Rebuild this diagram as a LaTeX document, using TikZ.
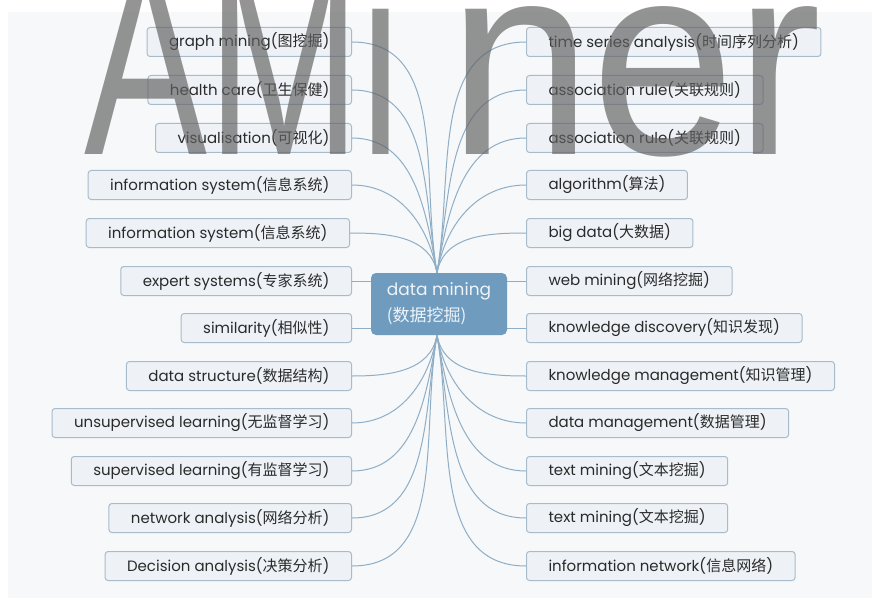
\documentclass[tikz,border=0pt]{standalone}
\usepackage{fontspec}
\setmainfont{Poppins}
\newfontfamily\cjk{Noto Sans CJK SC}
\newfontfamily\markfont{Liberation Sans}
\definecolor{canvas}{HTML}{F7F8F9}
\definecolor{boxfill}{HTML}{EEF2F6}
\definecolor{boxline}{HTML}{A7BBCB}
\definecolor{hubfill}{HTML}{6F9BBE}
\definecolor{hubtext}{HTML}{EEF4F9}
\definecolor{linkcol}{HTML}{8FAEC6}
\definecolor{darktext}{HTML}{2A2A2A}
\definecolor{markgray}{HTML}{626262}
\newcommand{\zh}[1]{{\cjk #1}}

\begin{document}
\begin{tikzpicture}[
      x=1pt,y=1pt,
      topic/.style={draw=boxline,fill=boxfill,rounded corners=3pt,line width=1pt,
        minimum height=29pt,inner xsep=22pt,inner ysep=0pt,text=darktext,
        font=\fontsize{15}{17}\selectfont},
      hub/.style={fill=hubfill,rounded corners=5pt,minimum width=136pt,minimum height=62pt,
        align=left,text=hubtext,font=\fontsize{17}{26}\selectfont},
      link/.style={draw=linkcol,line width=1pt},
      wmark/.style={text=markgray,text opacity=0.68,inner sep=0pt,
        font=\markfont\fontsize{275}{275}\selectfont}]
    \useasboundingbox (0,0) rectangle (880,-604);
    \fill[white] (0,0) rectangle (880,-604);
    \fill[canvas] (8,-12) rectangle (872,-598);

    % hub
    \node[hub] (dm) at (439,-304) {data mining\\\zh{(数据挖掘)}};

    % left column
    \node[topic,anchor=east] (gm)  at (352,-42)  {graph mining(\zh{图挖掘})};
    \node[topic,anchor=east] (hc)  at (352,-90)  {health care(\zh{卫生保健})};
    \node[topic,anchor=east] (vis) at (352,-138) {visualisation(\zh{可视化})};
    \node[topic,anchor=east] (is1) at (352,-185) {information system(\zh{信息系统})};
    \node[topic,anchor=east] (is2) at (350,-233) {information system(\zh{信息系统})};
    \node[topic,anchor=east] (es)  at (352,-281) {expert systems(\zh{专家系统})};
    \node[topic,anchor=east] (sim) at (352,-328) {similarity(\zh{相似性})};
    \node[topic,anchor=east] (ds)  at (352,-376) {data structure(\zh{数据结构})};
    \node[topic,anchor=east] (ul)  at (352,-423) {unsupervised learning(\zh{无监督学习})};
    \node[topic,anchor=east] (sl)  at (352,-471) {supervised learning(\zh{有监督学习})};
    \node[topic,anchor=east] (na)  at (352,-518) {network analysis(\zh{网络分析})};
    \node[topic,anchor=east] (da)  at (352,-566) {Decision analysis(\zh{决策分析})};

    % right column
    \node[topic,anchor=west] (tsa)  at (526,-42)  {time series analysis(\zh{时间序列分析})};
    \node[topic,anchor=west] (ar1)  at (526,-90)  {association rule(\zh{关联规则})};
    \node[topic,anchor=west] (ar2)  at (526,-138) {association rule(\zh{关联规则})};
    \node[topic,anchor=west] (alg)  at (526,-185) {algorithm(\zh{算法})};
    \node[topic,anchor=west] (bd)   at (526,-233) {big data(\zh{大数据})};
    \node[topic,anchor=west] (wm)   at (526,-281) {web mining(\zh{网络挖掘})};
    \node[topic,anchor=west] (kd)   at (526,-328) {knowledge discovery(\zh{知识发现})};
    \node[topic,anchor=west] (km)   at (526,-376) {knowledge management(\zh{知识管理})};
    \node[topic,anchor=west] (dmg)  at (526,-423) {data management(\zh{数据管理})};
    \node[topic,anchor=west] (tm1)  at (526,-471) {text mining(\zh{文本挖掘})};
    \node[topic,anchor=west] (tm2)  at (526,-518) {text mining(\zh{文本挖掘})};
    \node[topic,anchor=west] (inet) at (526,-566) {information network(\zh{信息网络})};

    % links, upper half
    \draw[link] (gm.east)  to[out=0,in=100] ([xshift=-2pt]dm.north);
    \draw[link] (hc.east)  to[out=0,in=100] ([xshift=-2pt]dm.north);
    \draw[link] (vis.east) to[out=0,in=100] ([xshift=-2pt]dm.north);
    \draw[link] (is1.east) to[out=0,in=100] ([xshift=-2pt]dm.north);
    \draw[link] (is2.east) to[out=0,in=100] ([xshift=-2pt]dm.north);
    \draw[link] (tsa.west) to[out=180,in=80] ([xshift=-2pt]dm.north);
    \draw[link] (ar1.west) to[out=180,in=80] ([xshift=-2pt]dm.north);
    \draw[link] (ar2.west) to[out=180,in=80] ([xshift=-2pt]dm.north);
    \draw[link] (alg.west) to[out=180,in=80] ([xshift=-2pt]dm.north);
    \draw[link] (bd.west)  to[out=180,in=80] ([xshift=-2pt]dm.north);
    % links, level with the hub
    \draw[link] (es.east)  -- (es.east -| dm.west);
    \draw[link] (sim.east) -- (sim.east -| dm.west);
    \draw[link] (wm.west)  -- (wm.west -| dm.east);
    \draw[link] (kd.west)  -- (kd.west -| dm.east);
    % links, lower half
    \draw[link] (ds.east)  to[out=0,in=-100] ([xshift=-2pt]dm.south);
    \draw[link] (ul.east)  to[out=0,in=-100] ([xshift=-2pt]dm.south);
    \draw[link] (sl.east)  to[out=0,in=-100] ([xshift=-2pt]dm.south);
    \draw[link] (na.east)  to[out=0,in=-100] ([xshift=-2pt]dm.south);
    \draw[link] (da.east)  to[out=0,in=-100] ([xshift=-2pt]dm.south);
    \draw[link] (km.west)  to[out=180,in=-80] ([xshift=-2pt]dm.south);
    \draw[link] (dmg.west) to[out=180,in=-80] ([xshift=-2pt]dm.south);
    \draw[link] (tm1.west) to[out=180,in=-80] ([xshift=-2pt]dm.south);
    \draw[link] (tm2.west) to[out=180,in=-80] ([xshift=-2pt]dm.south);
    \draw[link] (inet.west) to[out=180,in=-80] ([xshift=-2pt]dm.south);

    % watermark
    \node[wmark,anchor=base west,xscale=0.67] (wmA) at (84,-155) {AMi};
    \node[wmark,anchor=base west,xscale=0.94] (wmB) at (448,-155) {ner};
  \end{tikzpicture}
\end{document}
